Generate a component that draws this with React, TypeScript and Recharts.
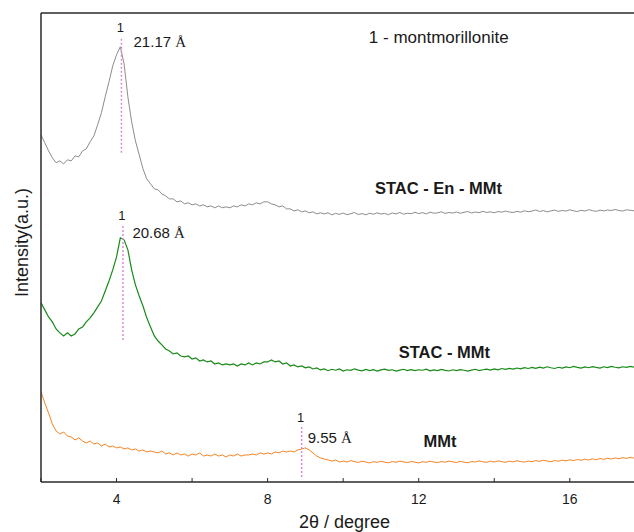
import React from 'react';
import { LineChart, Line, XAxis, YAxis, ReferenceLine, ReferenceDot, Label } from 'recharts';

// 2θ grid (degrees)
const twoTheta = [
  2.0, 2.1, 2.2, 2.3, 2.4, 2.5, 2.6, 2.7, 2.8, 2.9,
  3.0, 3.1, 3.2, 3.3, 3.4, 3.5, 3.6, 3.7, 3.8, 3.9,
  4.0, 4.1, 4.2, 4.3, 4.4, 4.5, 4.6, 4.7, 4.8, 4.9,
  5.0, 5.1, 5.2, 5.3, 5.4, 5.5, 5.6, 5.7, 5.8, 5.9,
  6.0, 6.1, 6.2, 6.3, 6.4, 6.5, 6.6, 6.7, 6.8, 6.9,
  7.0, 7.1, 7.2, 7.3, 7.4, 7.5, 7.6, 7.7, 7.8, 7.9,
  8.0, 8.1, 8.2, 8.3, 8.4, 8.5, 8.6, 8.7, 8.8, 8.9,
  9.0, 9.1, 9.2, 9.3, 9.4, 9.5, 9.6, 9.7, 9.8, 9.9,
  10.0, 10.1, 10.2, 10.3, 10.4, 10.5, 10.6, 10.7, 10.8, 10.9,
  11.0, 11.1, 11.2, 11.3, 11.4, 11.5, 11.6, 11.7, 11.8, 11.9,
  12.0, 12.1, 12.2, 12.3, 12.4, 12.5, 12.6, 12.7, 12.8, 12.9,
  13.0, 13.1, 13.2, 13.3, 13.4, 13.5, 13.6, 13.7, 13.8, 13.9,
  14.0, 14.1, 14.2, 14.3, 14.4, 14.5, 14.6, 14.7, 14.8, 14.9,
  15.0, 15.1, 15.2, 15.3, 15.4, 15.5, 15.6, 15.7, 15.8, 15.9,
  16.0, 16.1, 16.2, 16.3, 16.4, 16.5, 16.6, 16.7, 16.8, 16.9,
  17.0, 17.1, 17.2, 17.3, 17.4, 17.5, 17.6, 17.7,
];

// intensities (a.u., curves stacked with offsets as in the figure)
const stacEnMmt = [
  2221, 2170, 2118, 2074, 2042, 2054, 2035, 2061, 2054, 2086,
  2080, 2118, 2131, 2176, 2214, 2285, 2362, 2464, 2560, 2662,
  2733, 2784, 2675, 2464, 2304, 2182, 2093, 2003, 1939, 1907,
  1875, 1869, 1843, 1830, 1811, 1811, 1792, 1798, 1779, 1786,
  1773, 1779, 1766, 1773, 1760, 1766, 1754, 1766, 1754, 1760,
  1754, 1766, 1760, 1773, 1766, 1779, 1773, 1786, 1779, 1792,
  1792, 1779, 1773, 1760, 1766, 1747, 1747, 1734, 1741, 1728,
  1734, 1722, 1728, 1715, 1722, 1715, 1722, 1709, 1718, 1712,
  1720, 1710, 1716, 1724, 1711, 1717, 1709, 1719, 1713, 1722,
  1714, 1718, 1710, 1721, 1715, 1724, 1713, 1719, 1716, 1725,
  1717, 1723, 1715, 1726, 1719, 1722, 1728, 1718, 1724, 1720,
  1727, 1719, 1725, 1730, 1721, 1727, 1723, 1731, 1724, 1728,
  1722, 1730, 1726, 1733, 1727, 1724, 1731, 1726, 1735, 1729,
  1733, 1740, 1730, 1736, 1728, 1734, 1739, 1731, 1737, 1733,
  1741, 1735, 1730, 1738, 1733, 1742, 1736, 1731, 1739, 1734,
  1740, 1736, 1743, 1737, 1733, 1741, 1738, 1735,
];

const stacMmt = [
  1146, 1101, 1056, 1024, 979, 954, 934, 954, 934, 947,
  979, 992, 1024, 1050, 1082, 1120, 1158, 1222, 1286, 1357,
  1440, 1562, 1549, 1485, 1357, 1261, 1190, 1126, 1050, 992,
  934, 902, 877, 851, 838, 819, 826, 806, 800, 806,
  787, 794, 774, 781, 768, 774, 755, 762, 749, 755,
  749, 755, 742, 755, 749, 762, 749, 762, 755, 768,
  768, 781, 768, 774, 755, 762, 742, 749, 736, 742,
  730, 736, 723, 730, 717, 723, 712, 721, 715, 723,
  710, 718, 714, 724, 716, 711, 720, 713, 719, 709,
  717, 722, 714, 718, 710, 716, 721, 713, 719, 712,
  718, 715, 722, 711, 717, 713, 720, 714, 710, 718,
  712, 719, 715, 709, 716, 721, 713, 718, 722, 716,
  724, 718, 726, 720, 727, 722, 729, 724, 731, 726,
  733, 727, 735, 729, 737, 731, 726, 734, 729, 736,
  731, 739, 733, 728, 736, 731, 738, 733, 729, 737,
  732, 739, 734, 730, 737, 733, 740, 735,
];

const mmt = [
  576, 506, 442, 371, 326, 307, 320, 294, 288, 269,
  282, 262, 250, 262, 243, 250, 230, 243, 224, 230,
  218, 224, 211, 218, 205, 211, 198, 205, 192, 198,
  192, 186, 198, 179, 186, 173, 186, 173, 179, 166,
  179, 173, 186, 166, 173, 166, 179, 166, 173, 160,
  173, 166, 179, 166, 173, 173, 179, 173, 186, 179,
  186, 179, 192, 186, 198, 192, 198, 192, 205, 211,
  218, 205, 186, 166, 154, 147, 141, 134, 141, 128,
  134, 128, 137, 131, 125, 133, 128, 122, 130, 126,
  133, 127, 123, 131, 126, 134, 129, 124, 131, 127,
  122, 130, 126, 133, 128, 124, 131, 127, 134, 129,
  125, 132, 127, 123, 131, 128, 135, 129, 126, 133,
  128, 135, 130, 126, 133, 129, 136, 131, 127, 134,
  130, 137, 132, 139, 134, 130, 137, 133, 140, 135,
  142, 137, 144, 139, 146, 141, 148, 143, 150, 145,
  152, 147, 154, 149, 156, 151, 158, 153,
];

const xTicks = [2, 4, 6, 8, 10, 12, 14, 16];
const xTickLabels = [4, 8, 12, 16];
const yTicks = [
  0, 100, 200, 300, 400, 500, 600, 700, 800, 900, 1000,
  1100, 1200, 1300, 1400, 1500, 1600, 1700, 1800, 1900, 2000,
  2100, 2200, 2300, 2400, 2500, 2600, 2700, 2800, 2900, 3000,
];

// montmorillonite (001) reflections
const peakTwoTheta = [4.13, 4.17, 8.9];
const peakSpacing = ['21.17', '20.68', '9.55'];
const peakLineLow = [2106, 909, 32];
const peakLineHigh = [2848, 1645, 352];
const spacingAt = [[4.45, 2816], [4.42, 1594], [9.06, 282]];

const sampleNames = ['STAC - En - MMt', 'STAC - MMt', 'MMt'];
const sampleNameAt = [[10.84, 1882], [11.47, 832], [12.13, 262]];
const legendNote = '1 - montmorillonite';
const legendAt = [10.68, 2842];

const rows = twoTheta.map((t, i) => ({ t, a: stacEnMmt[i], b: stacMmt[i], c: mmt[i] }));

const FONT = '"Liberation Sans", Arial, sans-serif';
const AXIS = '#2a2a2a';
const PINK = '#d98ad9';

const textAt = (node: React.ReactNode, props: any = {}) => ({ viewBox }: any) => (
  <text x={viewBox.x} y={viewBox.y} dominantBaseline="central" fontFamily={FONT} fill="#1a1a1a" {...props}>
    {node}
  </text>
);

const angstrom = (v: string) => (
  <>
    {v} <tspan fontFamily='"Liberation Serif", serif'>Å</tspan>
  </>
);

export default function App() {
  return (
    <div style={{ position: 'absolute', left: 0, top: 0, width: 634, height: 532, overflow: 'hidden', background: '#fff' }}>
      <LineChart width={634} height={532} data={rows} margin={{ top: 0, right: 0, bottom: 0, left: 0 }}>
        <XAxis
          xAxisId="top"
          orientation="top"
          type="number"
          dataKey="t"
          domain={[2, 17.7]}
          allowDataOverflow
          ticks={xTicks}
          tick={false}
          tickSize={-4}
          height={13}
          axisLine={{ stroke: AXIS, strokeWidth: 1.5 }}
          tickLine={{ stroke: AXIS }}
        />
        <XAxis
          xAxisId="b"
          type="number"
          dataKey="t"
          domain={[2, 17.7]}
          allowDataOverflow
          ticks={xTicks}
          tickFormatter={(v: number) => (xTickLabels.includes(v) ? String(v) : '')}
          tickSize={-4}
          tickMargin={16}
          height={50}
          tick={{ fontSize: 14, fill: '#1a1a1a', fontFamily: FONT }}
          axisLine={{ stroke: AXIS, strokeWidth: 1.5 }}
          tickLine={{ stroke: AXIS }}
        >
          <Label
            content={({ viewBox }: any) => (
              <text x={viewBox.x + viewBox.width / 2 + 7} y={viewBox.y + 46} textAnchor="middle" fontSize={18} fontFamily={FONT} fill="#1a1a1a">
                2θ / degree
              </text>
            )}
          />
        </XAxis>
        <YAxis
          type="number"
          domain={[0, 3000]}
          allowDataOverflow
          ticks={yTicks}
          tick={false}
          tickSize={-3}
          width={41}
          axisLine={{ stroke: AXIS, strokeWidth: 1.5 }}
          tickLine={{ stroke: AXIS }}
        >
          <Label
            content={({ viewBox }: any) => {
              const cx = 28;
              const cy = viewBox.y + viewBox.height / 2 - 5;
              return (
                <text x={cx} y={cy} transform={`rotate(-90, ${cx}, ${cy})`} textAnchor="middle" fontSize={18} fontFamily={FONT} fill="#1a1a1a">
                  Intensity(a.u.)
                </text>
              );
            }}
          />
        </YAxis>

        <Line xAxisId="b" dataKey="a" stroke="#8c8c8c" strokeWidth={1} dot={false} isAnimationActive={false} />
        <Line xAxisId="b" dataKey="b" stroke="#178a17" strokeWidth={1.2} dot={false} isAnimationActive={false} />
        <Line xAxisId="b" dataKey="c" stroke="#f7831f" strokeWidth={1} dot={false} isAnimationActive={false} />

        {peakTwoTheta.map((x, i) => (
          <ReferenceLine
            key={`pl${i}`}
            xAxisId="b"
            segment={[{ x, y: peakLineLow[i] }, { x, y: peakLineHigh[i] }]}
            stroke={PINK}
            strokeWidth={1.5}
            strokeDasharray="2 2"
          />
        ))}
        {peakTwoTheta.map((x, i) => (
          <ReferenceDot
            key={`p1${i}`}
            xAxisId="b"
            x={x}
            y={peakLineHigh[i]}
            r={0}
            stroke="none"
            label={{ content: textAt('1', { fontSize: 13, textAnchor: 'middle', dx: -1, dy: -9 }) }}
          />
        ))}
        {spacingAt.map(([x, y], i) => (
          <ReferenceDot
            key={`ps${i}`}
            xAxisId="b"
            x={x}
            y={y}
            r={0}
            stroke="none"
            label={{ content: textAt(angstrom(peakSpacing[i]), { fontSize: 15 }) }}
          />
        ))}
        {sampleNameAt.map(([x, y], i) => (
          <ReferenceDot
            key={`sn${i}`}
            xAxisId="b"
            x={x}
            y={y}
            r={0}
            stroke="none"
            label={{ content: textAt(sampleNames[i], { fontSize: 16.5, fontWeight: 'bold' }) }}
          />
        ))}
        <ReferenceDot
          xAxisId="b"
          x={legendAt[0]}
          y={legendAt[1]}
          r={0}
          stroke="none"
          label={{ content: textAt(legendNote, { fontSize: 17 }) }}
        />
      </LineChart>
    </div>
  );
}
